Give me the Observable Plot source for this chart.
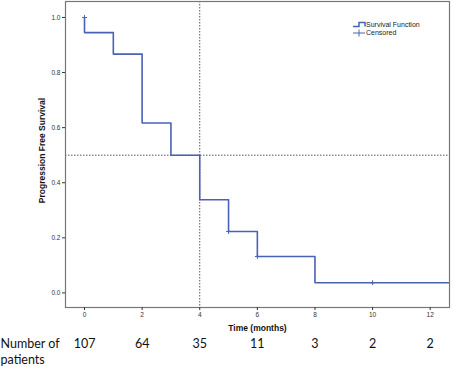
<!DOCTYPE html>
<html>
<head>
<meta charset="utf-8">
<script src="https://cdn.jsdelivr.net/npm/d3@7"></script>
<script src="https://cdn.jsdelivr.net/npm/@observablehq/plot@0.6"></script>
<style>
  html, body { margin: 0; padding: 0; background: #fff; }
  #chart svg { display: block; }
</style>
</head>
<body>
<div id="chart"></div>
<script>
// Kaplan-Meier step data (time in months, survival after event)
const eventTimes = [0, 0, 1, 2, 3, 4, 5, 6, 8, 13];
const survival   = [1.0, 0.945, 0.867, 0.617, 0.5, 0.338, 0.223, 0.132, 0.037, 0.037];

// Censored observations
const censorTimes = [0, 5, 6, 10];
const censorSurv  = [1.0, 0.223, 0.132, 0.037];

// Number at risk
const riskTimes  = [0, 2, 4, 6, 8, 10, 12];
const riskCounts = [107, 64, 35, 11, 3, 2, 2];

// Axis ticks
const xTicks = [0, 2, 4, 6, 8, 10, 12];
const yTicks = [0.0, 0.2, 0.4, 0.6, 0.8, 1.0];

// Reference lines
const medianTime = [4];
const halfLine = [0.5];

const kmData = eventTimes.map((t, i) => ({t, s: survival[i]}));
const censData = censorTimes.map((t, i) => ({t, s: censorSurv[i]}));
const riskData = riskTimes.map((t, i) => ({t, n: riskCounts[i]}));

const lineColor = "#4a62b4";

const legendMark = (index, scales, values, dims) => {
  const g = d3.create("svg:g");
  const x0 = dims.width - dims.marginRight - 96;
  const y0 = dims.marginTop + 24;
  g.append("path")
    .attr("d", `M${x0},${y0+1.5}H${x0+6}V${y0-2.5}H${x0+12}V${y0+1.5}`)
    .attr("fill", "none").attr("stroke", lineColor).attr("stroke-width", 1.5);
  g.append("path")
    .attr("d", `M${x0},${y0+8}H${x0+12}M${x0+6},${y0+4.5}V${y0+11.5}`)
    .attr("fill", "none").attr("stroke", lineColor).attr("stroke-width", 1);
  g.append("text").attr("x", x0 + 13).attr("y", y0 + 0.5)
    .attr("dominant-baseline", "middle").attr("text-anchor", "start")
    .attr("font-size", 7).attr("fill", "#222").text("Survival Function");
  g.append("text").attr("x", x0 + 13).attr("y", y0 + 8)
    .attr("dominant-baseline", "middle").attr("text-anchor", "start")
    .attr("font-size", 7).attr("fill", "#222").text("Censored");
  return g.node();
};

const chart = Plot.plot({
  width: 454,
  height: 367,
  marginLeft: 65,
  marginRight: 5,
  marginTop: 1,
  marginBottom: 60,
  style: {fontFamily: "Liberation Sans, Arial, sans-serif", fontSize: "7px", color: "#333", background: "#fff"},
  x: {domain: [-0.66, 12.67], ticks: xTicks, tickFormat: d => String(d), tickSize: 3, tickPadding: 2, label: null},
  y: {domain: [-0.053, 1.058], ticks: yTicks, tickFormat: d3.format(".1f"), tickSize: 3, tickPadding: 2, label: null},
  marks: [
    Plot.ruleX(medianTime, {stroke: "#444", strokeWidth: 0.9, strokeDasharray: "1.5,1.5"}),
    Plot.ruleY(halfLine, {stroke: "#444", strokeWidth: 0.9, strokeDasharray: "1.5,1.5"}),
    Plot.line(kmData, {x: "t", y: "s", curve: "step-after", stroke: lineColor, strokeWidth: 1.6, clip: true}),
    Plot.dot(censData, {x: "t", y: "s", symbol: "plus", r: 1.7, stroke: lineColor, strokeWidth: 1}),
    Plot.frame({stroke: "#777", strokeWidth: 1.2}),
    Plot.axisX({ticks: xTicks, tickSize: 3, tickPadding: 2, tickFormat: d => String(d), label: null, fontSize: 6.5}),
    Plot.axisY({ticks: yTicks, tickSize: 3, tickPadding: 2, tickFormat: d3.format(".1f"), label: null, fontSize: 6.5}),
    // axis titles
    Plot.text(["Time (months)"], {frameAnchor: "bottom", dy: 23, fontWeight: "bold", fontSize: 8.5, fill: "#111"}),
    Plot.text(["Progression Free Survival"], {frameAnchor: "left", textAnchor: "middle", dx: -23, dy: -4, rotate: -90, fontWeight: "bold", fontSize: 8.5, fill: "#111"}),
    // number at risk
    Plot.text(riskData, {x: "t", text: d => String(d.n), frameAnchor: "bottom", dy: 40, fontFamily: "Lato, Open Sans, sans-serif", fontSize: 12.5, fill: "#111"}),
    Plot.text(["Number of"], {frameAnchor: "bottom-left", dx: -65, dy: 40, textAnchor: "start", fontFamily: "Lato, Open Sans, sans-serif", fontSize: 12.5, fill: "#111"}),
    Plot.text(["patients"], {frameAnchor: "bottom-left", dx: -65, dy: 56, textAnchor: "start", fontFamily: "Lato, Open Sans, sans-serif", fontSize: 12.5, fill: "#111"}),
    legendMark
  ]
});
document.getElementById("chart").appendChild(chart);
</script>
</body>
</html>
